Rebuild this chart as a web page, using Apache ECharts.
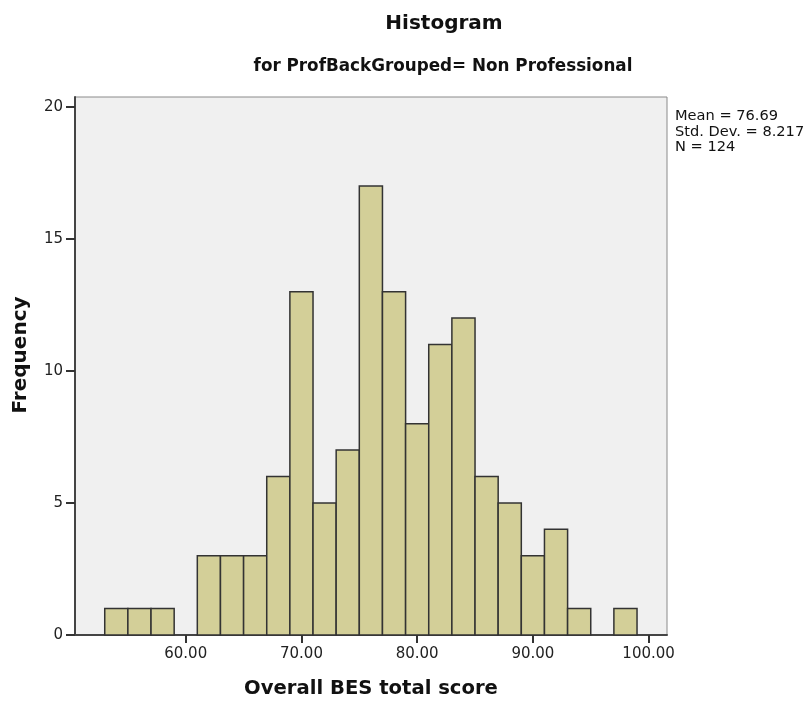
<!DOCTYPE html>
<html>
<head>
<meta charset="utf-8">
<script src="https://cdn.jsdelivr.net/npm/echarts@6/dist/echarts.min.js"></script>
<style>html,body{margin:0;padding:0;background:#fff;}#c{width:811px;height:701px;}</style>
</head>
<body>
<div id="c"></div>
<script>
// Histogram bins (lower edges) and frequencies
var binLower = [53,55,57,59,61,63,65,67,69,71,73,75,77,79,81,83,85,87,89,91,93,95,97];
var counts   = [1,1,1,0,3,3,3,6,13,5,7,17,13,8,11,12,6,5,3,4,1,0,1];
var binWidth = 2;
var xTicks = [60,70,80,90,100];
var yTicks = [0,5,10,15,20];
var statsLines = ['Mean = 76.69','Std. Dev. = 8.217','N = 124'];

var FONT = 'DejaVu Sans';
var data = [];
for (var i = 0; i < binLower.length; i++) {
  if (counts[i] > 0) data.push([binLower[i], binLower[i] + binWidth, counts[i]]);
}

var chart = echarts.init(document.getElementById('c'));
chart.setOption({
  animation: false,
  backgroundColor: '#ffffff',
  title: [
    {text: 'Histogram', left: 439, top: 9, textAlign: 'center',
     textStyle: {fontFamily: FONT, fontSize: 20, fontWeight: 'bold', color: '#111'}},
    {text: 'for ProfBackGrouped= Non Professional', left: 438, top: 53, textAlign: 'center',
     textStyle: {fontFamily: FONT, fontSize: 16.8, fontWeight: 'bold', color: '#111'}}
  ],
  grid: {left: 75, right: 144, top: 97, bottom: 66, show: true, containLabel: false,
         outerBoundsMode: 'none',
         backgroundColor: '#f0f0f0', borderColor: '#8a8a8a', borderWidth: 1},
  xAxis: {
    type: 'value', min: 50.43, max: 101.59,
    name: 'Overall BES total score', nameLocation: 'middle', nameGap: 44,
    nameTextStyle: {fontFamily: FONT, fontSize: 19.6, fontWeight: 'bold', color: '#111'},
    axisLine: {show: true, onZero: false, lineStyle: {color: '#444', width: 2}},
    axisTick: {show: true, length: 8, customValues: xTicks, lineStyle: {color: '#333', width: 2}},
    axisLabel: {customValues: xTicks, margin: 12, fontFamily: FONT, fontSize: 15, color: '#222',
                formatter: function(v){ return v.toFixed(2); }},
    splitLine: {show: false}
  },
  yAxis: {
    type: 'value', min: 0, max: 20.37,
    name: 'Frequency', nameLocation: 'middle', nameGap: 44, nameRotate: 90,
    nameTextStyle: {fontFamily: FONT, fontSize: 20, fontWeight: 'bold', color: '#111',
                    padding: [0, 0, 0, 22]},
    axisLine: {show: true, lineStyle: {color: '#444', width: 2}},
    axisTick: {show: true, length: 9, customValues: yTicks, lineStyle: {color: '#333', width: 2}},
    axisLabel: {customValues: yTicks, margin: 12, fontFamily: FONT, fontSize: 15, color: '#222'},
    splitLine: {show: false}
  },
  graphic: statsLines.map(function(t, i){
    return {type: 'text', left: 675, top: 109 + i * 15.5,
            style: {text: t, fontFamily: FONT, fontSize: 14.6, fill: '#111'}};
  }),
  series: [{
    type: 'custom',
    data: data,
    renderItem: function(params, api) {
      var p0 = api.coord([api.value(0), 0]);
      var p1 = api.coord([api.value(1), api.value(2)]);
      return {type: 'rect',
              shape: {x: p0[0], y: p1[1], width: p1[0] - p0[0], height: p0[1] - p1[1]},
              style: {fill: '#d3cf98', stroke: '#333', lineWidth: 1.5}};
    }
  }]
});
</script>
</body>
</html>
